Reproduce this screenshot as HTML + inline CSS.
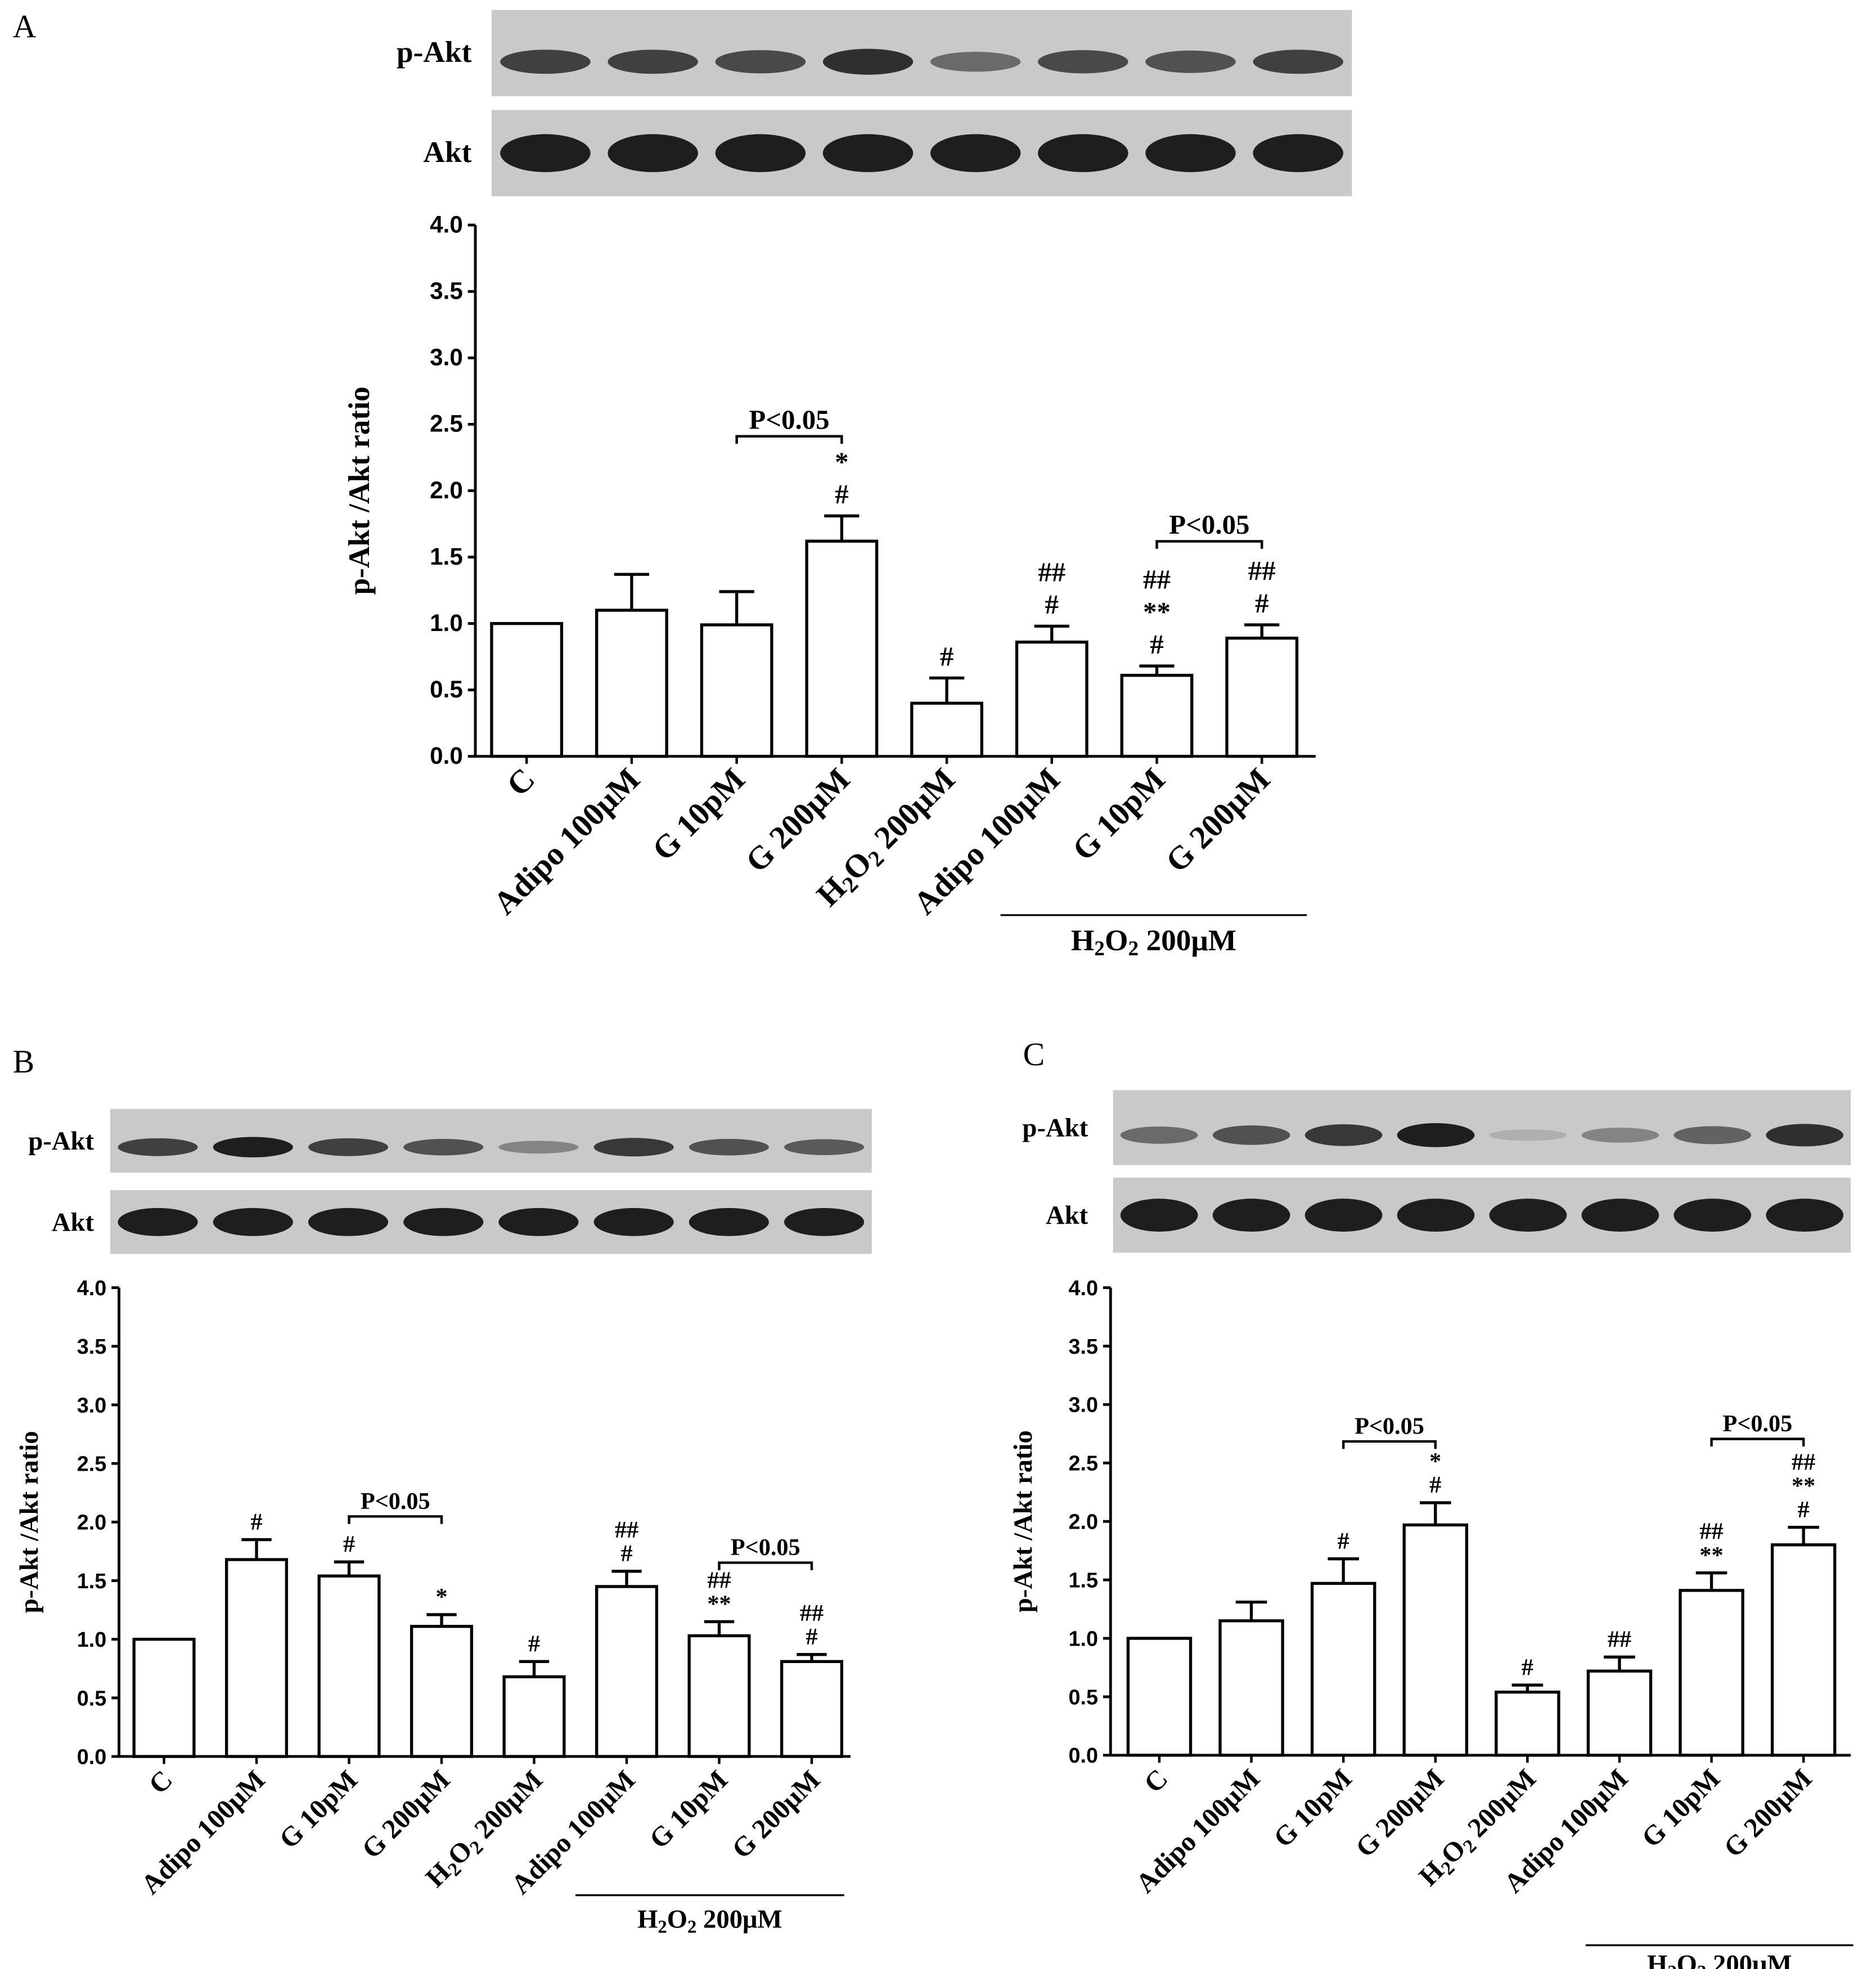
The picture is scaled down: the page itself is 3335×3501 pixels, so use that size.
<!DOCTYPE html>
<html><head><meta charset="utf-8">
<style>
html,body{margin:0;padding:0;background:#fff;}
svg{display:block;}
text{font-family:"Liberation Serif",serif;font-weight:bold;fill:#000;}
.tick{font-family:"Liberation Sans",sans-serif;}
</style></head>
<body>
<svg id="fig" width="3335" height="3501" viewBox="0 0 1500 1575" xmlns="http://www.w3.org/2000/svg"></svg>
<script>
const categories = ["C","Adipo 100μM","G 10pM","G 200μM","H2O2 200μM","Adipo 100μM","G 10pM","G 200μM"];
const yTicks = [0,0.5,1.0,1.5,2.0,2.5,3.0,3.5,4.0];
const valuesA = [1.0,1.10,0.99,1.62,0.40,0.86,0.61,0.89];
const errorsA = [0,0.27,0.25,0.19,0.19,0.12,0.07,0.10];
const valuesB = [1.0,1.68,1.54,1.11,0.68,1.45,1.03,0.81];
const errorsB = [0,0.17,0.12,0.10,0.13,0.13,0.12,0.06];
const valuesC = [1.0,1.15,1.47,1.97,0.54,0.72,1.41,1.80];
const errorsC = [0,0.16,0.21,0.19,0.06,0.12,0.15,0.15];
const annotA = [[],[],[],["#","*"],["#"],["#","##"],["#","**","##"],["#","##"]];
const annotB = [[],["#"],["#"],["*"],["#"],["#","##"],["**","##"],["#","##"]];
const annotC = [[],[],["#"],["#","*"],["#"],["##"],["**","##"],["#","**","##"]];
const pBandA = [0.8,0.8,0.75,0.9,0.55,0.75,0.7,0.8];
const pBandB = [0.8,1.0,0.8,0.7,0.4,0.85,0.7,0.65];
const pBandC = [0.55,0.7,0.85,1.0,0.15,0.4,0.6,0.9];

const NS="http://www.w3.org/2000/svg";
const svg=document.getElementById('fig');
function mk(tag,attrs,parent){const e=document.createElementNS(NS,tag);for(const k in attrs)e.setAttribute(k,attrs[k]);(parent||svg).appendChild(e);return e;}
function txt(s,x,y,size,parent,anchor){const t=mk('text',{x:x,y:y,'font-size':size,'text-anchor':anchor||'middle'},parent);t.textContent=s;return t;}
function h2o2(t){t.textContent='';const a=document.createElementNS(NS,'tspan');a.textContent='H';t.appendChild(a);
 const b=document.createElementNS(NS,'tspan');b.setAttribute('dy','4');b.setAttribute('font-size','0.7em');b.textContent='2';t.appendChild(b);
 const c=document.createElementNS(NS,'tspan');c.setAttribute('dy','-4');c.textContent='O';t.appendChild(c);
 const d=document.createElementNS(NS,'tspan');d.setAttribute('dy','4');d.setAttribute('font-size','0.7em');d.textContent='2';t.appendChild(d);
 const e=document.createElementNS(NS,'tspan');e.setAttribute('dy','-4');e.textContent=' 200μM';t.appendChild(e);}

function panel(cfg,values,errors,annot,pband){
 const g=mk('g',{});
 
 
 const L=txt(cfg.id,cfg.letter[0],cfg.letter[1],26,g,'start');L.style.fontWeight='normal';
 
 
 const blots=[[cfg.blotP,pband,'p-Akt'],[cfg.blotT,null,'Akt']];
 blots.forEach(([b,band,lab])=>{
  const bg=mk('g',{},g);
  
  
  mk('rect',{x:b[0],y:b[1],width:b[2]-b[0],height:b[3]-b[1],fill:'#c9c9c7'},bg);
  const n=8, w=(b[2]-b[0])/n;
  for(let i=0;i<n;i++){
   const intensity=band?band[i]:1.0;
   const cx=b[0]+w*(i+0.5), cy=band? b[1]+(b[3]-b[1])*0.6 : (b[1]+b[3])/2;
   const ry=band?(b[3]-b[1])*0.1*(0.6+intensity):(b[3]-b[1])*0.22;
   const shade=Math.round(200-170*intensity);
   mk('ellipse',{cx:cx,cy:cy,rx:w*0.42,ry:ry,fill:`rgb(${shade},${shade},${shade})`},bg);
  }
  const t=txt(lab,cfg.blotLabelX,(b[1]+b[3])/2+7,cfg.fs+2,bg,'end');
  
  
 });
 const y0=cfg.y0,y4=cfg.y4,ax=cfg.axisX;
 const Y=v=>y0-(y0-y4)*v/4;
 const X=i=>cfg.c0+cfg.step*i;
 const axes=mk('g',{stroke:'#000','stroke-width':2.2,fill:'none'},g);
 
 
 mk('line',{x1:ax,y1:y4,x2:ax,y2:y0},axes);
 mk('line',{x1:ax,y1:y0,x2:cfg.axisEnd,y2:y0},axes);
 yTicks.forEach(v=>{
  mk('line',{x1:ax-6,y1:Y(v),x2:ax,y2:Y(v)},axes);
  const t=txt(v.toFixed(1),ax-10,Y(v)+6,cfg.tfs,g,'end');t.setAttribute('class','tick');
  
  
 });
 const yt=txt('p-Akt /Akt ratio',0,0,cfg.fs+2,g);
 yt.setAttribute('transform',`translate(${cfg.titleX},${(y0+y4)/2}) rotate(-90)`);
 
 
 values.forEach((v,i)=>{
  const cx=X(i),bw=cfg.bw;
  const bar=mk('rect',{x:cx-bw/2,y:Y(v),width:bw,height:y0-Y(v),fill:'#fff',stroke:'#000','stroke-width':2.4},g);
  
  
  if(errors[i]>0){
   const e=mk('g',{stroke:'#000','stroke-width':2.4},g);
   
   
   mk('line',{x1:cx,y1:Y(v),x2:cx,y2:Y(v+errors[i])},e);
   mk('line',{x1:cx-bw*0.25,y1:Y(v+errors[i]),x2:cx+bw*0.25,y2:Y(v+errors[i])},e);
  }
  let ay=Y(v+errors[i])-cfg.annGap;
  annot[i].forEach(s=>{
   const t=txt(s,cx,ay,cfg.fs,g);
   
   
   ay-=cfg.annStep;
  });
  mk('line',{x1:cx,y1:y0,x2:cx,y2:y0+6,stroke:'#000','stroke-width':2},g);
  const lt=txt(categories[i],0,0,cfg.xfs,g,'end');
  if(i===4)h2o2(lt);
  lt.setAttribute('transform',`translate(${cx+8},${y0+20}) rotate(-45)`);
  
  
 });
 cfg.brackets.forEach(([a,b,by])=>{
  const bg=mk('g',{},g);
  
  
  const x1=X(a),x2=X(b);
  mk('path',{d:`M${x1} ${by+6} V${by} H${x2} V${by+6}`,stroke:'#000','stroke-width':2,fill:'none'},bg);
  txt('P<0.05',(x1+x2)/2,by-6,cfg.fs,bg);
 });
 const hg=mk('g',{},g);
 
 
 mk('line',{x1:cfg.grp[0],y1:cfg.grp[2],x2:cfg.grp[1],y2:cfg.grp[2],stroke:'#000','stroke-width':1.5},hg);
 const ht=txt('',(cfg.grp[0]+cfg.grp[1])/2,cfg.grp[2]+cfg.grp[3],cfg.fs+2,hg);h2o2(ht);
}

panel({id:'A',letter:[10,30],blotP:[393,8,1081,77],blotT:[393,88,1081,157],blotLabelX:377,
 axisX:380,axisEnd:1052,y0:605,y4:180,c0:421,step:84,bw:56,fs:22,tfs:19,xfs:26,titleX:295,
 annGap:10,annStep:26,brackets:[[2,3,349],[6,7,433]],grp:[800,1045,732,28]},valuesA,errorsA,annotA,pBandA);
panel({id:'B',letter:[10,858],blotP:[88,887,697,938],blotT:[88,952,697,1003],blotLabelX:75,
 axisX:95,axisEnd:680,y0:1405,y4:1030,c0:131,step:74,bw:48,fs:19,tfs:17,xfs:22,titleX:30,
 annGap:8,annStep:19,brackets:[[2,3,1213],[6,7,1250]],grp:[460,675,1516,26]},valuesB,errorsB,annotB,pBandB);
panel({id:'C',letter:[818,852],blotP:[890,872,1480,932],blotT:[890,942,1480,1002],blotLabelX:870,
 axisX:888,axisEnd:1480,y0:1404,y4:1030,c0:927,step:73.6,bw:50,fs:19,tfs:17,xfs:22,titleX:825,
 annGap:8,annStep:19,brackets:[[2,3,1153],[6,7,1151]],grp:[1268,1482,1556,22]},valuesC,errorsC,annotC,pBandC);
</script>
</body></html>
